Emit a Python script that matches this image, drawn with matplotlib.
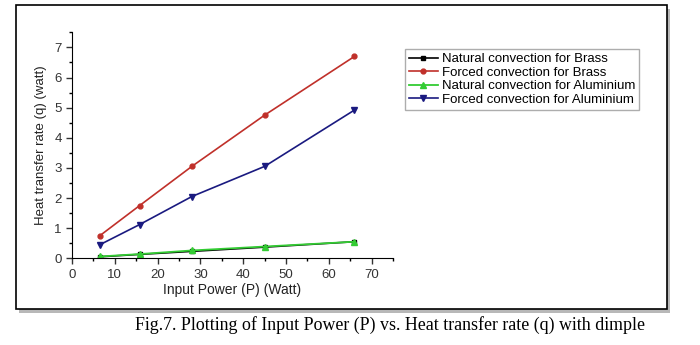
import matplotlib.pyplot as plt
from matplotlib.patches import Rectangle
from matplotlib.ticker import MultipleLocator

plt.rcParams['font.family'] = ['Liberation Sans', 'DejaVu Sans']

# data
input_power = [6.5, 15.8, 28, 45, 66]
nat_brass = [0.05, 0.13, 0.23, 0.37, 0.55]
forced_brass = [0.75, 1.75, 3.05, 4.75, 6.7]
nat_alum = [0.06, 0.14, 0.26, 0.39, 0.55]
forced_alum = [0.45, 1.12, 2.05, 3.05, 4.92]

W, H = 700, 345
fig = plt.figure(figsize=(7, 3.45), dpi=100)

# framed panel with a soft shadow (behind the axes)
fig.patches.append(Rectangle((19 / W, 1 - 313 / H), 651 / W, 304 / H,
                             transform=fig.transFigure, facecolor='#b8b8b8',
                             edgecolor='none', zorder=-2))
fig.patches.append(Rectangle((16 / W, 1 - 309 / H), 651 / W, 304 / H,
                             transform=fig.transFigure, facecolor='white',
                             edgecolor='black', linewidth=1.2, zorder=-1))

ax = fig.add_axes([72 / W, 1 - 258.3 / H, 321 / W, 226 / H])
ax.set_facecolor('none')

ax.plot(input_power, nat_brass, color='black', marker='s', markersize=3.5,
        linewidth=1.2, label='Natural convection for Brass')
ax.plot(input_power, forced_brass, color='#c0302a', marker='o', markersize=3.5,
        linewidth=1.2, label='Forced convection for Brass')
ax.plot(input_power, nat_alum, color='#33cc33', marker='^', markersize=4,
        linewidth=1.3, label='Natural convection for Aluminium')
ax.plot(input_power, forced_alum, color='#1a1a80', marker='v', markersize=4,
        linewidth=1.2, label='Forced convection for Aluminium')

ax.set_xlim(0, 75)
ax.set_ylim(0, 7.5)
ax.xaxis.set_major_locator(MultipleLocator(10))
ax.xaxis.set_minor_locator(MultipleLocator(5))
ax.yaxis.set_major_locator(MultipleLocator(1))
ax.yaxis.set_minor_locator(MultipleLocator(0.5))
ax.tick_params(which='major', direction='out', length=4, width=1,
               labelsize=9.5, colors='#333333')
ax.tick_params(which='minor', direction='out', length=2.5, width=1)
ax.spines['top'].set_visible(False)
ax.spines['right'].set_visible(False)

ax.set_xlabel('Input Power (P) (Watt)', fontsize=10, color='#222222', labelpad=2)
ax.set_ylabel('Heat transfer rate (q) (watt)', fontsize=9.5, color='#222222',
              labelpad=5)

ax.legend(loc='upper left', bbox_to_anchor=(405 / W, 1 - 49 / H),
          bbox_transform=fig.transFigure, fontsize=9.5, frameon=True,
          fancybox=False, edgecolor='#999999', borderpad=0.3,
          labelspacing=0.1, handlelength=2.2, handletextpad=0.3,
          borderaxespad=0)

fig.text(390 / W, 1 - 325 / H,
         'Fig.7. Plotting of Input Power (P) vs. Heat transfer rate (q) with dimple',
         family=['Liberation Serif', 'DejaVu Serif'], fontsize=12.9,
         ha='center', va='center')

fig.savefig('out.png', dpi=100)
